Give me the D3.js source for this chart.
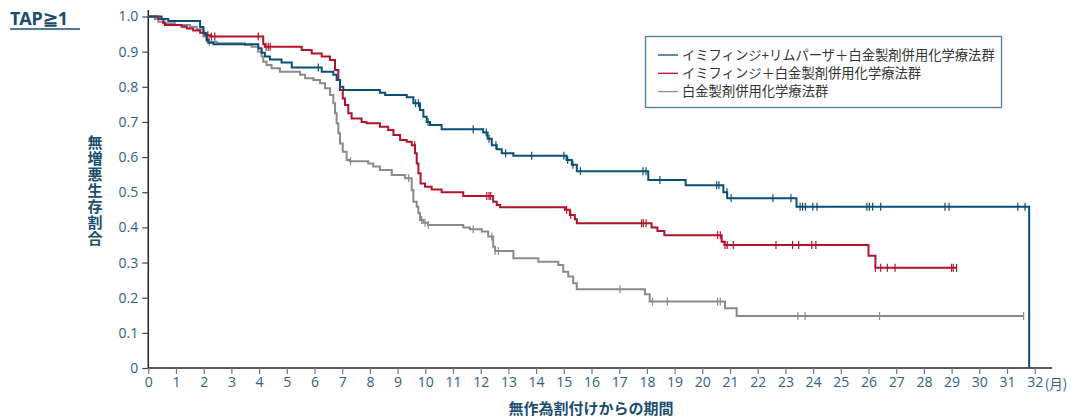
<!DOCTYPE html>
<html><head><meta charset="utf-8">
<script src="https://cdn.jsdelivr.net/npm/d3@7"></script>
<style>
html,body{margin:0;padding:0;background:#fff;}
svg{display:block;}
</style></head>
<body>
<svg id="chart" width="1072" height="417"></svg>
<script>
// ---------- DATA ----------
const xTicks = d3.range(0, 33);
const yTicks = [0, 0.1, 0.2, 0.3, 0.4, 0.5, 0.6, 0.7, 0.8, 0.9, 1.0];
const seriesNames = ["イミフィンジ+リムパーザ＋白金製剤併用化学療法群", "イミフィンジ＋白金製剤併用化学療法群", "白金製剤併用化学療法群"];

const blueTimes = [0,0.48,0.72,1.87,1.99,2.11,2.17,2.35,3.97,4.09,4.21,4.39,4.81,5.18,6.26,6.68,6.8,6.92,7.04,8.36,8.55,9.33,9.57,9.81,9.93,10.05,10.17,10.59,12.09,12.25,12.4,12.58,12.76,13.18,15.1,15.29,15.47,18.05,19.4,20.76,20.9,23.4,31.8,31.8];
const blueSurv  = [1.0,0.993,0.987,0.97,0.952,0.933,0.925,0.921,0.91,0.897,0.886,0.878,0.869,0.855,0.843,0.834,0.819,0.80,0.791,0.783,0.777,0.77,0.753,0.734,0.715,0.70,0.691,0.679,0.670,0.652,0.634,0.622,0.611,0.604,0.592,0.578,0.560,0.535,0.52,0.50,0.483,0.459,0.459,0];
const blueCensor = [6.14,9.65,9.75,10.1,11.73,12.2,12.3,12.55,12.9,13.84,15.0,15.14,15.33,15.6,17.86,17.97,18.47,20.52,20.6,20.89,21.04,22.55,23.2,23.53,23.62,23.72,23.99,24.14,25.94,26.03,26.15,26.44,28.76,28.91,31.39,31.65];

const redTimes = [0,0.36,0.54,0.6,1.2,1.39,1.62,1.87,2.05,2.23,4.15,4.21,5.54,5.9,6.26,6.56,6.74,6.86,6.92,7.02,7.1,7.22,7.34,7.7,7.88,8.36,8.66,8.85,9.09,9.33,9.51,9.63,9.69,9.75,9.83,9.99,10.23,10.59,11.37,12.45,12.58,12.7,15.04,15.22,15.4,15.47,18.17,18.38,18.63,20.7,20.8,26.0,26.25,29.18];
const redSurv  = [1.0,0.993,0.981,0.976,0.971,0.966,0.96,0.954,0.947,0.943,0.921,0.914,0.905,0.895,0.886,0.876,0.848,0.819,0.791,0.767,0.748,0.725,0.71,0.70,0.696,0.686,0.677,0.663,0.649,0.644,0.634,0.611,0.582,0.554,0.525,0.516,0.508,0.50,0.489,0.473,0.464,0.457,0.45,0.435,0.423,0.412,0.40,0.39,0.378,0.359,0.35,0.319,0.285,0.285];
const redCensor = [2.15,2.28,2.4,3.97,4.25,4.33,4.4,9.62,12.22,12.3,12.36,15.1,15.25,17.81,17.87,17.97,20.55,20.65,20.82,20.9,21.12,22.66,23.26,23.48,23.95,24.1,26.25,26.44,26.68,26.96,29.0,29.06,29.18];

const grayTimes = [0,0.24,0.36,0.6,0.96,1.5,1.75,1.99,2.11,2.47,3.49,3.73,3.97,4.09,4.15,4.27,4.45,4.75,5.48,5.66,5.96,6.2,6.38,6.56,6.68,6.74,6.8,6.86,6.92,7.02,7.16,7.28,7.94,8.12,8.36,8.79,9.27,9.51,9.57,9.69,9.75,9.81,9.93,10.1,11.37,11.61,12.04,12.27,12.45,12.52,13.18,14.08,14.8,14.98,15.16,15.34,15.47,17.93,18.1,20.82,21.24,31.6];
const graySurv  = [1.0,0.993,0.985,0.981,0.976,0.971,0.964,0.943,0.928,0.924,0.919,0.914,0.90,0.886,0.871,0.862,0.853,0.843,0.834,0.824,0.819,0.81,0.796,0.777,0.753,0.725,0.696,0.668,0.639,0.615,0.592,0.588,0.582,0.573,0.563,0.549,0.54,0.506,0.473,0.459,0.44,0.421,0.413,0.407,0.40,0.395,0.388,0.374,0.345,0.333,0.312,0.302,0.293,0.274,0.26,0.241,0.224,0.21,0.189,0.17,0.148,0.148];
const grayCensor = [2.1,2.2,7.3,9.4,9.87,9.99,10.11,11.73,12.4,12.52,12.64,17.03,18.2,18.74,20.55,20.65,23.45,23.71,26.4,31.6];

const colors = ["#0b4f77", "#b3122e", "#8a8a8a"];

// ---------- CHART ----------
const svg = d3.select("#chart");
const x = d3.scaleLinear().domain([0, 32]).range([148.3, 1034.7]);
const y = d3.scaleLinear().domain([0, 1]).range([368, 16.5]);

const tickColor = "#2d6088";
const labelColor = "#1b4d70";

// title
svg.append("text").attr("x", 10).attr("y", 25)
  .attr("font-family", "'Noto Sans', 'Open Sans', sans-serif")
  .attr("font-weight", "bold").attr("font-size", 18).attr("fill", labelColor)
  .text("TAP≧1");
svg.append("line").attr("x1", 10).attr("x2", 80).attr("y1", 29).attr("y2", 29)
  .attr("stroke", labelColor).attr("stroke-width", 1.6);

// y axis
const yAxis = d3.axisLeft(y).tickValues(yTicks).tickSize(6).tickPadding(4)
  .tickFormat(d => d === 0 ? "0" : d3.format(".1f")(d));
const gy = svg.append("g").attr("transform", `translate(${x(0)},0)`).call(yAxis);
gy.select(".domain").attr("d", `M0,10V${y(0)}`).attr("stroke", "#222").attr("stroke-width", 1.5);
gy.selectAll(".tick line").attr("stroke", "#444").attr("stroke-width", 1.2);
gy.selectAll(".tick text").attr("fill", tickColor).attr("font-size", 14)
  .attr("font-family", "'Open Sans', 'Noto Sans', sans-serif");

// x axis
const xAxis = d3.axisBottom(x).tickValues(xTicks).tickSize(6).tickPadding(3);
const gx = svg.append("g").attr("transform", `translate(0,${y(0)})`).call(xAxis);
gx.select(".domain").attr("d", `M${x(0)},0H1052`).attr("stroke", "#222").attr("stroke-width", 1.5);
gx.selectAll(".tick line").attr("stroke", "#777").attr("stroke-width", 1.2);
gx.selectAll(".tick text").attr("fill", tickColor).attr("font-size", 14)
  .attr("font-family", "'Open Sans', 'Noto Sans', sans-serif");
svg.append("text").attr("x", x(32) + 10).attr("y", y(0) + 21)
  .attr("fill", tickColor).attr("font-size", 13.5)
  .attr("font-family", "'Noto Sans CJK JP', sans-serif").text("(月)");

// axis titles
svg.append("text").attr("x", 591).attr("y", 414).attr("text-anchor", "middle")
  .attr("font-family", "'Noto Sans CJK JP', sans-serif").attr("font-weight", "bold")
  .attr("font-size", 15).attr("fill", labelColor).text("無作為割付けからの期間");

svg.append("text").attr("x", 95).attr("y", 135)
  .attr("style", "writing-mode: vertical-rl; letter-spacing: 1px;")
  .attr("font-family", "'Noto Sans CJK JP', sans-serif").attr("font-weight", "bold")
  .attr("font-size", 15).attr("fill", labelColor).text("無増悪生存割合");

// curves
const line = d3.line().x(d => x(d[0])).y(d => y(d[1])).curve(d3.curveStepAfter);
function survAt(times, surv, t) {
  let s = surv[0];
  for (let i = 0; i < times.length; i++) { if (times[i] <= t && surv[i] > 0) s = surv[i]; }
  return s;
}
const series = [
  {t: grayTimes, s: graySurv, c: grayCensor, col: colors[2]},
  {t: redTimes, s: redSurv, c: redCensor, col: colors[1]},
  {t: blueTimes, s: blueSurv, c: blueCensor, col: colors[0]}
];
series.forEach(se => {
  const pts = se.t.map((t, i) => [t, se.s[i]]);
  svg.append("path").attr("d", line(pts)).attr("fill", "none")
    .attr("stroke", se.col).attr("stroke-width", 2);
  svg.append("g").selectAll("line").data(se.c).join("line")
    .attr("x1", d => x(d)).attr("x2", d => x(d))
    .attr("y1", d => y(survAt(se.t, se.s, d)) - 4)
    .attr("y2", d => y(survAt(se.t, se.s, d)) + 4)
    .attr("stroke", se.col).attr("stroke-width", 1.2);
});

// legend
const lg = svg.append("g");
lg.append("rect").attr("x", 645.5).attr("y", 36.5).attr("width", 356).attr("height", 71)
  .attr("fill", "#fff").attr("stroke", "#4c7d9c").attr("stroke-width", 1.3);
seriesNames.forEach((n, i) => {
  const yy = 55 + i * 18.3;
  lg.append("line").attr("x1", 658).attr("x2", 678).attr("y1", yy).attr("y2", yy)
    .attr("stroke", colors[i]).attr("stroke-width", 1.3);
  lg.append("text").attr("x", 682).attr("y", yy + 4.8)
    .attr("font-family", "'Noto Sans CJK JP', sans-serif").attr("font-size", 13.3)
    .attr("fill", "#333").text(n);
});
</script>
</body></html>
